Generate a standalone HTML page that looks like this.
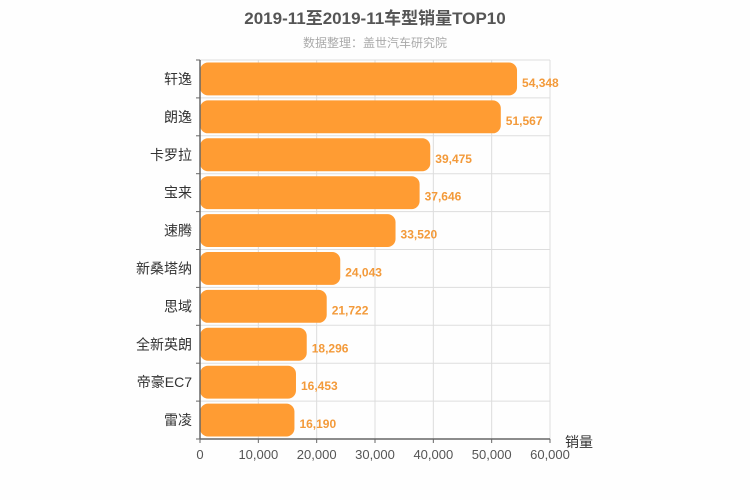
<!DOCTYPE html>
<html><head><meta charset="utf-8"><style>
html,body{margin:0;padding:0;background:#fefefe;}
svg{display:block;font-family:"Liberation Sans","Noto Sans CJK SC",sans-serif;}
</style></head><body>
<svg id="chart" width="750" height="500">
<text x="375" y="24" text-anchor="middle" font-size="17" font-weight="bold" fill="#555">2019-11至2019-11车型销量TOP10</text>
<text x="375" y="47" text-anchor="middle" font-size="12" fill="#aaa">数据整理：盖世汽车研究院</text>
<g id="grid"></g><g id="bars"></g><g id="axes"></g>
</svg>
<script>
const categories=["轩逸","朗逸","卡罗拉","宝来","速腾","新桑塔纳","思域","全新英朗","帝豪EC7","雷凌"];
const values=[54348,51567,39475,37646,33520,24043,21722,18296,16453,16190];
const ticks=[0,10000,20000,30000,40000,50000,60000];
const NS="http://www.w3.org/2000/svg";
const X0=200,X1=550,Y0=60,Y1=439,MAX=60000;
const xs=v=>X0+v/MAX*(X1-X0);
const band=(Y1-Y0)/categories.length;
const g=document.getElementById('grid'),b=document.getElementById('bars'),a=document.getElementById('axes');
function mk(p,t,at){const e=document.createElementNS(NS,t);for(const k in at)e.setAttribute(k,at[k]);p.appendChild(e);return e;}
ticks.forEach((t,i)=>{
 if(i>0){const l=mk(g,'line',{x1:xs(t),x2:xs(t),y1:Y0,y2:Y1,stroke:'#ddd'});
 
 }
 const tx=mk(a,'text',{x:xs(t),y:Y1+20,'text-anchor':'middle','font-size':13,fill:'#555'});tx.textContent=t.toLocaleString('en-US');
 
 
 const tk=mk(a,'line',{x1:xs(t),x2:xs(t),y1:Y1,y2:Y1+4,stroke:'#666'});
 
 
});
for(let i=0;i<=categories.length;i++){
 const y=Y0+i*band;
 if(i<categories.length){const l=mk(g,'line',{x1:X0,x2:X1,y1:y,y2:y,stroke:'#ddd'});
 
 }
 const tk=mk(a,'line',{x1:X0-4,x2:X0,y1:y,y2:y,stroke:'#666'});
 
 
}
categories.forEach((c,i)=>{
 const yc=Y0+(i+0.5)*band;
 const r=mk(b,'rect',{x:X0,y:yc-band/2+2.5,width:xs(values[i])-X0,height:band-5,rx:8,ry:8,fill:'#ff9c33'});
 
 
 const v=mk(b,'text',{x:xs(values[i])+5,y:yc+8,'font-size':12,'font-weight':'bold',fill:'#f39a3a'});v.textContent=values[i].toLocaleString('en-US');
 
 
 const t=mk(a,'text',{x:X0-8,y:yc+5,'text-anchor':'end','font-size':14,fill:'#333'});t.textContent=c;
 
 
});
const ya=mk(a,'line',{x1:X0,x2:X0,y1:Y0,y2:Y1,stroke:'#666','stroke-width':1.5});


const xa=mk(a,'line',{x1:X0,x2:X1,y1:Y1,y2:Y1,stroke:'#666','stroke-width':1.5});


const xt=mk(a,'text',{x:X1+15,y:Y1+8,'font-size':14,fill:'#333'});xt.textContent='销量';


</script>
</body></html>
